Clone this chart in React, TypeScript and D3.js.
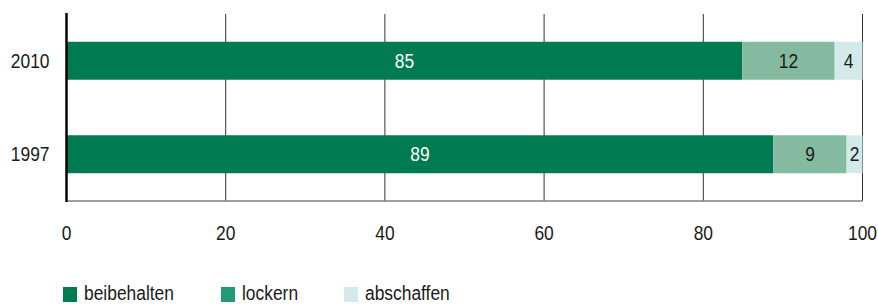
import React, { useRef, useEffect } from "react";
import * as d3 from "d3";

const years = ["2010", "1997"];
const seriesNames = ["beibehalten", "lockern", "abschaffen"];
// segment widths as drawn (percent)
const beibehalten = [84.9, 88.8];
const lockern = [11.6, 9.2];
const abschaffen = [3.5, 2.0];
// printed labels
const beibehaltenLabels = ["85", "89"];
const lockernLabels = ["12", "9"];
const abschaffenLabels = ["4", "2"];
const xTicks = [0, 20, 40, 60, 80, 100];

const barColors = ["#007a50", "#84bba0", "#d3eaea"];
const legendColors = ["#007a50", "#24997a", "#d3eaea"];
const labelColors = ["#ffffff", "#1a1a1a", "#1a1a1a"];
const FONT = "'Liberation Sans', Arial, sans-serif";
const NARROW = 0.87;

const App = () => {
  const ref = useRef<SVGSVGElement>(null);

  useEffect(() => {
    const svg = d3.select(ref.current);
    svg.selectAll("*").remove();

    const x = d3.scaleLinear().domain([0, 100]).range([66.5, 862.5]);
    const y = d3
      .scaleBand()
      .domain(years)
      .range([14, 201])
      .paddingInner(0.594)
      .paddingOuter(0.297);

    const values = [beibehalten, lockern, abschaffen];
    const labels = [beibehaltenLabels, lockernLabels, abschaffenLabels];

    // condensed text: Liberation Sans squeezed horizontally
    const label = (
      parent: any,
      tx: number,
      ty: number,
      text: string,
      anchor: string,
      fill: string,
      dy = "0.36em"
    ) =>
      parent
        .append("text")
        .attr("transform", `translate(${tx},${ty}) scale(${NARROW},1)`)
        .attr("dy", dy)
        .attr("text-anchor", anchor)
        .attr("font-family", FONT)
        .attr("font-size", 20)
        .attr("fill", fill)
        .text(text);

    // grid lines
    svg
      .append("g")
      .selectAll("line")
      .data(xTicks.filter((t) => t > 0))
      .enter()
      .append("line")
      .attr("x1", (d) => x(d))
      .attr("x2", (d) => x(d))
      .attr("y1", 14)
      .attr("y2", 201)
      .attr("stroke", "#333")
      .attr("stroke-width", 1);

    // stacked bars
    years.forEach((yr, i) => {
      let acc = 0;
      values.forEach((series, s) => {
        const v = series[i];
        const x0 = x(acc);
        const x1 = x(acc + v);
        svg
          .append("rect")
          .attr("x", x0)
          .attr("y", y(yr)!)
          .attr("width", x1 - x0)
          .attr("height", y.bandwidth())
          .attr("fill", barColors[s]);
        label(svg, (x0 + x1) / 2, y(yr)! + y.bandwidth() / 2, labels[s][i], "middle", labelColors[s]);
        acc += v;
      });
    });

    // bottom axis line
    svg
      .append("line")
      .attr("x1", x(0))
      .attr("x2", x(100))
      .attr("y1", 201)
      .attr("y2", 201)
      .attr("stroke", "#808080")
      .attr("stroke-width", 1.5);

    // left axis line
    svg
      .append("line")
      .attr("x1", x(0))
      .attr("x2", x(0))
      .attr("y1", 13)
      .attr("y2", 202)
      .attr("stroke", "#000")
      .attr("stroke-width", 2.5);

    // x tick labels
    const xg = svg.append("g");
    xTicks.forEach((t) => label(xg, x(t), 233, String(t), "middle", "#1a1a1a"));

    // year labels
    const yg = svg.append("g");
    years.forEach((yr) => label(yg, 49.5, y(yr)! + y.bandwidth() / 2, yr, "end", "#1a1a1a"));

    // legend
    const legendX = [63, 221, 344];
    seriesNames.forEach((name, i) => {
      svg
        .append("rect")
        .attr("x", legendX[i])
        .attr("y", 287)
        .attr("width", 14)
        .attr("height", 15)
        .attr("fill", legendColors[i]);
      label(svg, legendX[i] + 21, 300, name, "start", "#1a1a1a", "0");
    });
  }, []);

  return (
    <svg
      ref={ref}
      width={878}
      height={304}
      style={{ position: "absolute", left: 0, top: 0, background: "#fff" }}
    />
  );
};

export default App;
